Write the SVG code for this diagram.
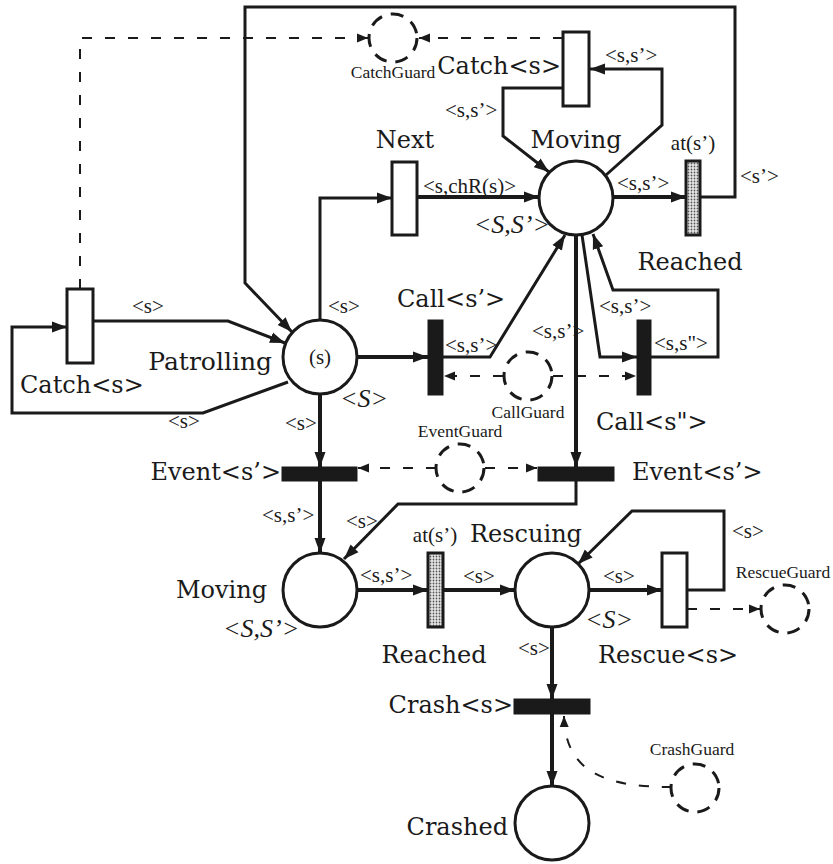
<svg xmlns="http://www.w3.org/2000/svg" width="833" height="864" viewBox="0 0 833 864">
<style>
.big{font-family:"DejaVu Serif",serif;font-size:24px;fill:#1a1a1a}
.sm{font-family:"Liberation Serif",serif;font-size:21px;fill:#1a1a1a}
.gd{font-family:"Liberation Serif",serif;font-size:17.5px;fill:#1a1a1a}
.it{font-family:"Liberation Serif",serif;font-style:italic;font-size:26px;fill:#1a1a1a}
.pl{fill:#fff;stroke:#1a1a1a;stroke-width:3}
.gu{fill:none;stroke:#1a1a1a;stroke-width:3;stroke-dasharray:13 9}
.tw{fill:#fff;stroke:#1a1a1a;stroke-width:3}
.tb{fill:#1a1a1a;stroke:#1a1a1a;stroke-width:1}
.ts{fill:url(#dots);stroke:#1a1a1a;stroke-width:3}
.a{fill:none;stroke:#1a1a1a;stroke-width:3;marker-end:url(#ah)}
.at{fill:none;stroke:#1a1a1a;stroke-width:4;marker-end:url(#ah)}
.l{fill:none;stroke:#1a1a1a;stroke-width:3}
.d{fill:none;stroke:#1a1a1a;stroke-width:2;stroke-dasharray:10 13;marker-end:url(#ahd)}
</style>
<defs>
<marker id="ah" markerUnits="userSpaceOnUse" markerWidth="16" markerHeight="12" refX="15" refY="6" orient="auto">
<path d="M0,0.5 L15,6 L0,11.5 z" fill="#1a1a1a"/>
</marker>
<marker id="ahd" markerUnits="userSpaceOnUse" markerWidth="12" markerHeight="10" refX="11" refY="5" orient="auto">
<path d="M0,0.5 L11,5 L0,9.5 z" fill="#1a1a1a"/>
</marker>
<pattern id="dots" width="3" height="3" patternUnits="userSpaceOnUse">
<rect width="3" height="3" fill="#e8e8e8"/>
<circle cx="1.5" cy="1.5" r="0.9" fill="#555"/>
</pattern>
</defs>

<g id="connectors">
<polyline class="a" points="700,197 735,197 735,7 245,7 245,283 292,332"/>
<polyline class="d" points="80,289 80,38 368,38"/>
<line class="d" x1="563" y1="38" x2="419" y2="38"/>
<polyline class="a" points="606,175 662,125 662,69 590,69"/>
<polyline class="a" points="563,88 503,88 503,136 549,172"/>
<polyline class="a" points="320,320 320,198 392,198"/>
<line class="at" x1="417" y1="197" x2="539" y2="197"/>
<line class="at" x1="613" y1="197" x2="686" y2="197"/>
<polyline class="a" points="93,321 228,321 285,343"/>
<polyline class="a" points="288,382 203,413 12,413 12,327 67,327"/>
<line class="at" x1="320" y1="394" x2="320" y2="467"/>
<line class="at" x1="357" y1="357" x2="428" y2="357"/>
<polyline class="a" points="443,357 490,357 565,235"/>
<polyline class="a" points="582,235 600,357 637,357"/>
<polyline class="a" points="651,357 718,357 718,290 613,290 593,234"/>
<line class="at" x1="576" y1="235" x2="576" y2="467"/>
<line class="d" x1="503" y1="376" x2="444" y2="376"/>
<line class="d" x1="553" y1="376" x2="636" y2="376"/>
<line class="d" x1="436" y1="468" x2="358" y2="468"/>
<line class="d" x1="485" y1="468" x2="537" y2="468"/>
<line class="at" x1="320" y1="481" x2="320" y2="553"/>
<polyline class="a" points="576,481 576,504 398,504 344,559"/>
<line class="at" x1="357" y1="590" x2="428" y2="590"/>
<line class="at" x1="443" y1="590" x2="515" y2="590"/>
<line class="at" x1="589" y1="590" x2="662" y2="590"/>
<polyline class="a" points="687,590 724,590 724,511 632,511 578,564"/>
<line class="d" x1="687" y1="609" x2="760" y2="609"/>
<line class="at" x1="552" y1="627" x2="552" y2="699"/>
<line class="at" x1="552" y1="714" x2="552" y2="786"/>
<path class="d" d="M672,787 C610,787 565,775 564,716"/>
</g>

<g id="CatchGuard">
<circle class="gu" cx="393" cy="38" r="24"/>
<text class="gd" x="393" y="78" text-anchor="middle">CatchGuard</text>
</g>
<g id="CatchTop">
<rect class="tw" x="563" y="32" width="26" height="74"/>
<text class="big" x="561" y="74" text-anchor="end">Catch&lt;s&gt;</text>
</g>
<g id="Next">
<rect class="tw" x="392" y="162" width="25" height="73"/>
<text class="big" x="405" y="148" text-anchor="middle">Next</text>
</g>
<g id="MovingTop">
<circle class="pl" cx="576" cy="198" r="37"/>
<text class="big" x="576" y="148" text-anchor="middle">Moving</text>
<text class="it" x="550" y="233" text-anchor="end">&lt;S,S’&gt;</text>
</g>
<g id="ReachedTop">
<rect class="ts" x="686" y="161" width="14" height="74"/>
<text class="sm" x="693" y="150" text-anchor="middle">at(s’)</text>
<text class="big" x="690" y="270" text-anchor="middle">Reached</text>
</g>
<g id="CatchLeft">
<rect class="tw" x="67" y="289" width="26" height="74"/>
<text class="big" x="20" y="393">Catch&lt;s&gt;</text>
</g>
<g id="Patrolling">
<circle class="pl" cx="320" cy="357" r="37"/>
<text class="sm" x="320" y="364" text-anchor="middle">(s)</text>
<text class="big" x="272" y="370" text-anchor="end" style="font-size:25px">Patrolling</text>
<text class="it" x="340" y="407">&lt;S&gt;</text>
</g>
<g id="CallS1">
<rect class="tb" x="428" y="320" width="15" height="75"/>
<text class="big" x="397" y="307">Call&lt;s’&gt;</text>
</g>
<g id="CallGuard">
<circle class="gu" cx="528" cy="376" r="24"/>
<text class="gd" x="528" y="418" text-anchor="middle">CallGuard</text>
</g>
<g id="CallS2">
<rect class="tb" x="637" y="320" width="14" height="75"/>
<text class="big" x="596" y="430">Call&lt;s"&gt;</text>
</g>
<g id="EventLeft">
<rect class="tb" x="282" y="467" width="75" height="14"/>
<text class="big" x="281" y="480" text-anchor="end">Event&lt;s’&gt;</text>
</g>
<g id="EventGuard">
<circle class="gu" cx="460" cy="468" r="24"/>
<text class="gd" x="460" y="437" text-anchor="middle">EventGuard</text>
</g>
<g id="EventRight">
<rect class="tb" x="538" y="467" width="76" height="14"/>
<text class="big" x="632" y="480">Event&lt;s’&gt;</text>
</g>
<g id="MovingBottom">
<circle class="pl" cx="320" cy="590" r="37"/>
<text class="big" x="267" y="598" text-anchor="end">Moving</text>
<text class="it" x="223" y="637">&lt;S,S’&gt;</text>
</g>
<g id="ReachedBottom">
<rect class="ts" x="428" y="553" width="15" height="74"/>
<text class="sm" x="435" y="542" text-anchor="middle">at(s’)</text>
<text class="big" x="434" y="663" text-anchor="middle">Reached</text>
</g>
<g id="Rescuing">
<circle class="pl" cx="552" cy="590" r="37"/>
<text class="big" x="470" y="542">Rescuing</text>
<text class="it" x="585" y="628">&lt;S&gt;</text>
</g>
<g id="Rescue">
<rect class="tw" x="662" y="553" width="25" height="74"/>
<text class="big" x="668" y="663" text-anchor="middle">Rescue&lt;s&gt;</text>
</g>
<g id="RescueGuard">
<circle class="gu" cx="785" cy="609" r="24"/>
<text class="gd" x="783" y="578" text-anchor="middle">RescueGuard</text>
</g>
<g id="Crash">
<rect class="tb" x="514" y="699" width="76" height="15"/>
<text class="big" x="513" y="713" text-anchor="end">Crash&lt;s&gt;</text>
</g>
<g id="Crashed">
<circle class="pl" cx="552" cy="823" r="37"/>
<text class="big" x="508" y="835" text-anchor="end">Crashed</text>
</g>
<g id="CrashGuard">
<circle class="gu" cx="695" cy="788" r="24"/>
<text class="gd" x="692" y="755" text-anchor="middle">CrashGuard</text>
</g>

<g id="arc-labels">
<text class="sm" x="423" y="193">&lt;s,chR(s)&gt;</text>
<text class="sm" x="617" y="190">&lt;s,s’&gt;</text>
<text class="sm" x="605" y="62">&lt;s,s’&gt;</text>
<text class="sm" x="445" y="117">&lt;s,s’&gt;</text>
<text class="sm" x="740" y="183">&lt;s’&gt;</text>
<text class="sm" x="328" y="313">&lt;s&gt;</text>
<text class="sm" x="132" y="313">&lt;s&gt;</text>
<text class="sm" x="168" y="428">&lt;s&gt;</text>
<text class="sm" x="285" y="430">&lt;s&gt;</text>
<text class="sm" x="445" y="352">&lt;s,s’&gt;</text>
<text class="sm" x="532" y="338">&lt;s,s’&gt;</text>
<text class="sm" x="599" y="313">&lt;s,s’&gt;</text>
<text class="sm" x="654" y="350">&lt;s,s"&gt;</text>
<text class="sm" x="262" y="522">&lt;s,s’&gt;</text>
<text class="sm" x="346" y="528">&lt;s&gt;</text>
<text class="sm" x="360" y="582">&lt;s,s’&gt;</text>
<text class="sm" x="463" y="583">&lt;s&gt;</text>
<text class="sm" x="603" y="583">&lt;s&gt;</text>
<text class="sm" x="732" y="538">&lt;s&gt;</text>
<text class="sm" x="518" y="655">&lt;s&gt;</text>
</g>
</svg>
